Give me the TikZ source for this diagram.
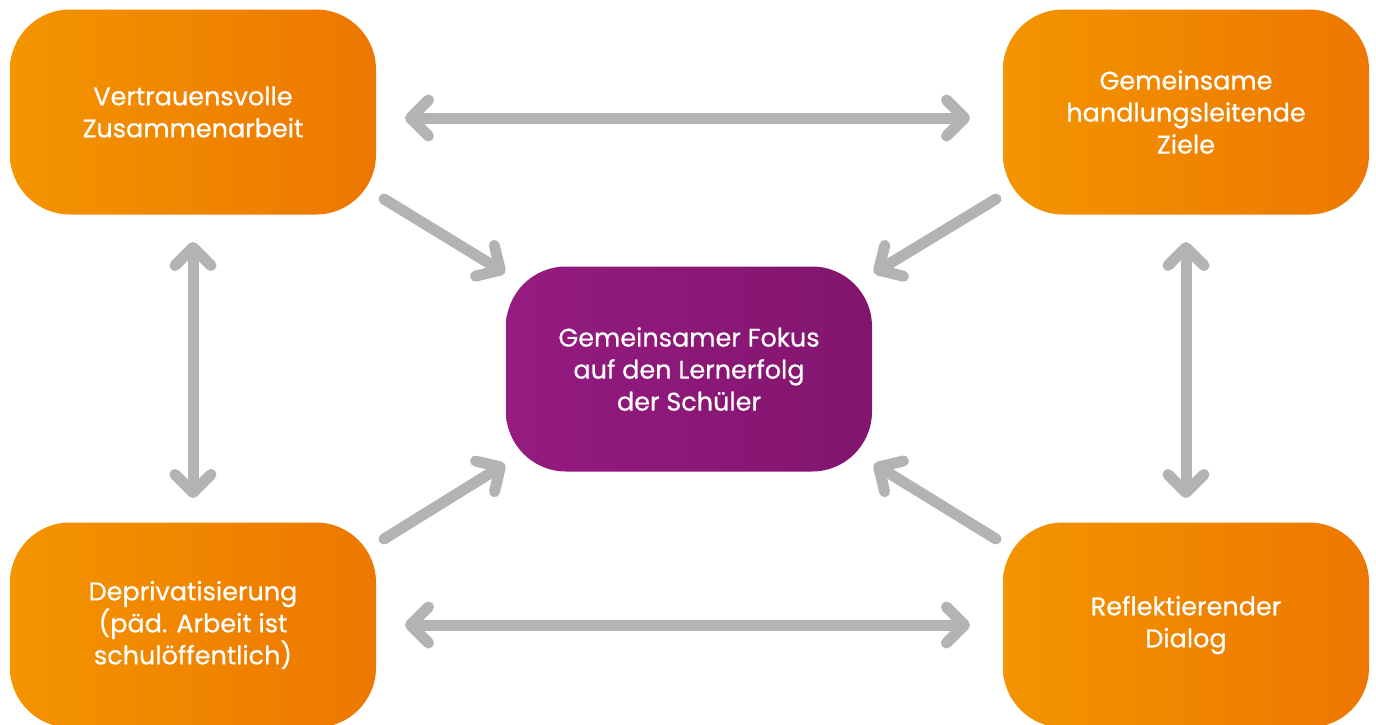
\documentclass[tikz,border=0pt]{standalone}
\usepackage{fontspec}
\setmainfont{Poppins}[FakeBold=0.6]
\usetikzlibrary{arrows.meta}
\definecolor{orL}{HTML}{F39400}
\definecolor{orR}{HTML}{EE7700}
\definecolor{puL}{HTML}{951B81}
\definecolor{puR}{HTML}{82156E}
\definecolor{arrgray}{HTML}{B3B3B3}
\tikzset{
  obox/.style={rectangle, rounded corners=60pt, minimum width=366pt, minimum height=205pt,
    left color=orL, right color=orR, draw=none, text=white, align=center,
    font=\fontsize{25.5}{32}\selectfont},
  pbox/.style={obox, left color=puL, right color=puR},
  arr/.style={draw=arrgray, line width=11pt, line cap=round,
    {Straight Barb[length=18pt,width=36pt,round]}-{Straight Barb[length=18pt,width=36pt,round]}},
  sarr/.style={draw=arrgray, line width=11pt, line cap=round,
    -{Straight Barb[length=18pt,width=36pt,round]}}
}
\begin{document}
\begin{tikzpicture}[x=1pt,y=-1pt]
\useasboundingbox (0,0) rectangle (1376,724);
\node[obox] (tl) at (193,112) {Vertrauensvolle\\Zusammenarbeit};
\node[obox] (tr) at (1186,112) {Gemeinsame\\handlungsleitende\\Ziele};
\node[obox] (bl) at (193,625) {Deprivatisierung\\(päd. Arbeit ist\\schulöffentlich)};
\node[obox] (br) at (1186,625) {Reflektierender\\Dialog};
\node[pbox] (c) at (689,369) {Gemeinsamer Fokus\\auf den Lernerfolg\\der Schüler};
% connector end points
\coordinate (t1) at (405,118); \coordinate (t2) at (970,118);
\coordinate (b1) at (405,625); \coordinate (b2) at (970,625);
\coordinate (l1) at (193,242); \coordinate (l2) at (193,498);
\coordinate (r1) at (1186,242); \coordinate (r2) at (1186,498);
\coordinate (dtl) at (384,199); \coordinate (etl) at (505,273);
\coordinate (dtr) at (996,199); \coordinate (etr) at (874,273);
\coordinate (dbl) at (384,539); \coordinate (ebl) at (505,464);
\coordinate (dbr) at (996,539); \coordinate (ebr) at (874,464);
\draw[arr] (t1) -- (t2);
\draw[arr] (b1) -- (b2);
\draw[arr] (l1) -- (l2);
\draw[arr] (r1) -- (r2);
\draw[sarr] (dtl) -- (etl);
\draw[sarr] (dtr) -- (etr);
\draw[sarr] (dbl) -- (ebl);
\draw[sarr] (dbr) -- (ebr);
\end{tikzpicture}
\end{document}
